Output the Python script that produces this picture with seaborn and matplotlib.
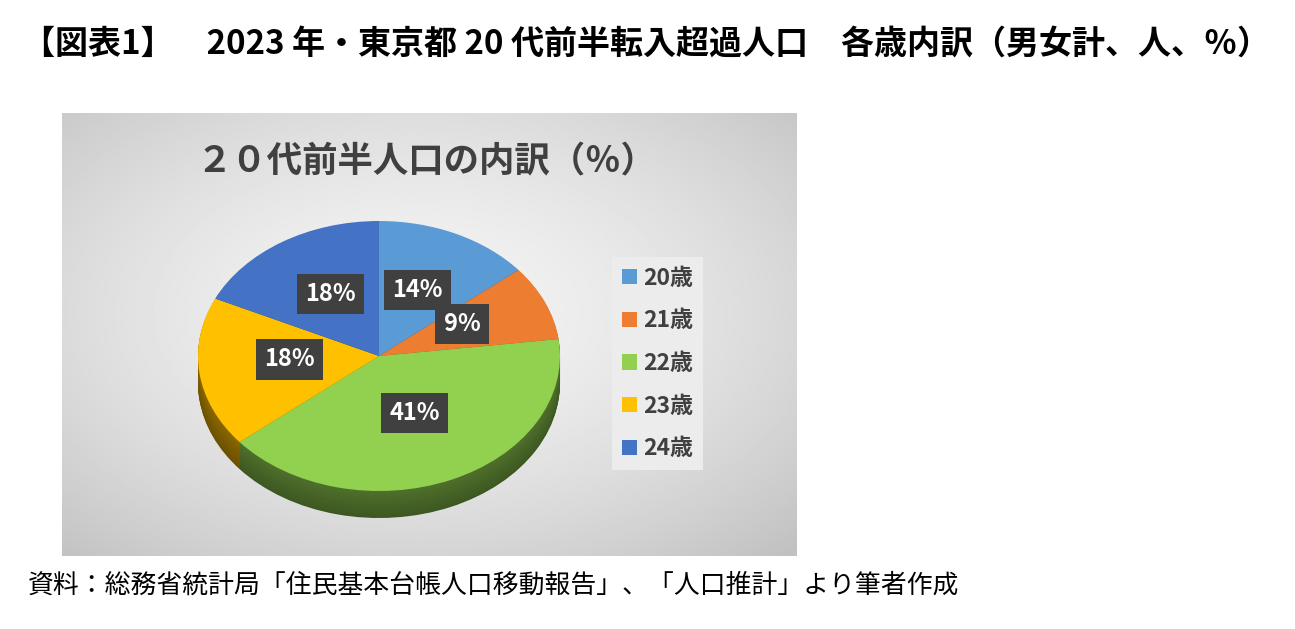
import matplotlib
matplotlib.use("Agg")
import matplotlib.pyplot as plt
import numpy as np
import seaborn as sns

# data
ages = ["20歳", "21歳", "22歳", "23歳", "24歳"]
shares = [14, 9, 41, 18, 18]
hex_colors = ["#5B9BD5", "#ED7D31", "#92D050", "#FFC000", "#4472C4"]

fig_title = "【図表1】　2023 年・東京都 20 代前半転入超過人口　各歳内訳（男女計、人、％）"
chart_title = "２０代前半人口の内訳（％）"
source = "資料：総務省統計局「住民基本台帳人口移動報告」、「人口推計」より筆者作成"

sns.set_theme(style="white")
plt.rcParams['font.family'] = ['Noto Sans CJK JP', 'DejaVu Sans']

W, H = 1295, 629
fig = plt.figure(figsize=(W / 100, H / 100), dpi=100)
fig.patch.set_facecolor("white")


def fbox(x0, y0, x1, y1):
    return [x0 / W, 1 - y1 / H, (x1 - x0) / W, (y1 - y0) / H]


# gray gradient panel behind the chart
bg = fig.add_axes(fbox(62, 113, 797, 556))
yy, xx = np.mgrid[0:1:300j, 0:1:500j]
dist = np.sqrt(((xx - 0.48) / 0.75) ** 2 + ((yy - 0.45) / 0.75) ** 2)
shade = 0.955 - 0.2 * np.clip(dist, 0, 1) ** 1.6
bg.imshow(shade, cmap="gray", vmin=0, vmax=1, aspect="auto",
          extent=(0, 1, 0, 1), interpolation="bilinear")
bg.axis("off")

# pie, squashed to look tilted
cx, cy, rx, ry = 379, 356, 181, 135
depth_px = 27
ax = fig.add_axes(fbox(150, 200, 600, 545))
palette = sns.color_palette(hex_colors)

# side of the disc: stacked darker copies
n_layers = 30
for i, d in enumerate(np.linspace(depth_px / ry, 0, n_layers, endpoint=False)):
    f = 0.42 + 0.12 * i / n_layers
    side = [tuple(c * f for c in col) for col in palette]
    ax.pie(shares, colors=side, startangle=90, counterclock=False,
           center=(0, -d), wedgeprops=dict(linewidth=0))

wedges, _, pct = ax.pie(shares, colors=palette, startangle=90, counterclock=False,
                        autopct=lambda p: f"{p:.0f}%", pctdistance=0.5,
                        wedgeprops=dict(linewidth=0),
                        textprops=dict(color="white", fontsize=17, fontweight="bold"))
for t in pct:
    x, y = t.get_position()
    t.set_position((x, y + 5 / ry))
    t.set_bbox(dict(boxstyle="square,pad=0.35", fc="#404040", ec="none"))

ax.set_aspect("auto")
ax.set_xlim((150 - cx) / rx, (600 - cx) / rx)
ax.set_ylim((cy - 545) / ry, (cy - 200) / ry)
ax.axis("off")

leg = fig.legend(wedges, ages, loc="upper left", bbox_to_anchor=(612 / W, 1 - 257 / H),
                 borderaxespad=0, frameon=True, facecolor="#ececec", edgecolor="none",
                 fancybox=False, framealpha=1, handlelength=0.65, handleheight=0.65,
                 handletextpad=0.3, labelspacing=0.86, borderpad=0.42,
                 prop=dict(size=16.5, weight="bold"), labelcolor="#404040")

fig.text(426 / W, 1 - 162 / H, chart_title, ha="center", va="center",
         fontsize=25.5, fontweight="bold", color="#404040")
fig.text(646 / W, 1 - 45 / H, fig_title, ha="center", va="center",
         fontsize=23.8, fontweight="bold", color="black")
fig.text(28 / W, 1 - 585 / H, source, ha="left", va="center",
         fontsize=18.6, color="black")

fig.savefig("out.png", dpi=100)
